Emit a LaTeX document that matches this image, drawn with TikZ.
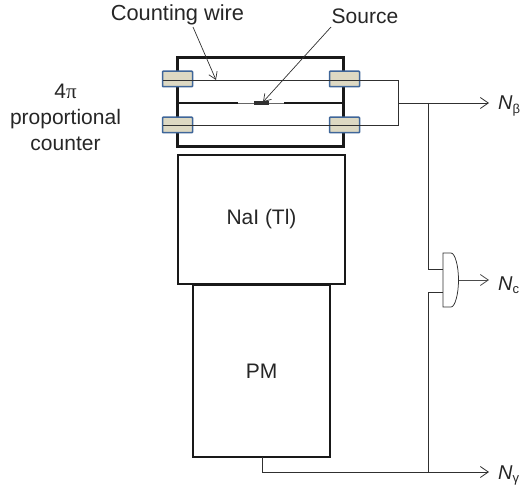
\documentclass[tikz,border=0pt]{standalone}
\usepackage{fontspec}
\setmainfont{Liberation Sans}
\newfontfamily\pifont{Liberation Serif}
\usetikzlibrary{arrows.meta,calc}
\definecolor{feedfill}{HTML}{DDD9C3}
\definecolor{feedline}{HTML}{3F6699}
\definecolor{wirecol}{HTML}{303030}
\tikzset{
  box/.style={draw=black!90,line width=1.8pt,rectangle,inner sep=0pt,font=\fontsize{21}{24}\selectfont,text=black!85},
  feed/.style={draw=feedline,fill=feedfill,line width=1.5pt,rounded corners=0.8pt,minimum width=30pt,minimum height=15.5pt,inner sep=0pt},
  wire/.style={draw=wirecol,line width=0.85pt},
  arr/.style={wire,-{Straight Barb[length=8pt,width=11pt,line width=0.8pt]}},
  lab/.style={font=\fontsize{21}{26}\selectfont,text=black!85,inner sep=0pt},
  divider/.style={draw=black!90,line width=1.5pt},
  sublab/.style={font=\fontsize{20}{24}\selectfont,text=black!85,inner sep=0pt,anchor=base west},
  pointer/.style={wire,line width=0.7pt,-{Straight Barb[length=7pt,width=9pt,line width=0.7pt]}}
}
\newcommand{\subtxt}[1]{\raisebox{-3.5pt}{\fontsize{13}{13}\selectfont #1}}
\begin{document}
\begin{tikzpicture}[x=1pt,y=-1pt]
\useasboundingbox (0,0) rectangle (521,489);
% boxes
\node[box,line width=2.8pt,minimum width=166pt,minimum height=89pt] (counter) at (260.5,102) {};
\node[box,minimum width=167pt,minimum height=129pt] (nai) at (261.5,219.5) {NaI (Tl)};
\node[box,minimum width=137pt,minimum height=172pt] (pm) at (261.5,371) {PM};
% divider
\coordinate (dl) at (counter.west |- 0,103);
\coordinate (dr) at (counter.east |- 0,103);
\coordinate (d1) at (238,103);
\coordinate (d2) at (254,103);
\coordinate (d3) at (284,103);
\coordinate (d4) at (269,103);
\draw[divider] (dl) -- (d1);
\draw[wire,draw=black!60] (d1) -- (d2);
\draw[draw=wirecol,line width=3.4pt] (d2) -- (d4);
\draw[wire,draw=black!60] (d4) -- (d3);
\draw[divider] (d3) -- (dr);
% feedthroughs
\node[feed] (fa) at (177.5,79) {};
\node[feed] (fb) at (344.5,79) {};
\node[feed] (fc) at (177.5,125) {};
\node[feed] (fd) at (344.5,125) {};
% wires
\coordinate (ja) at (398,80);
\coordinate (jc) at (398,125);
\coordinate (jm) at (398,103);
\coordinate (split) at (428,103);
\coordinate (wa) at (163,80);
\coordinate (wc) at (163,125);
\draw[wire] (wa) -- (ja) -- (jc) -- (wc);
\node[sublab] (nb) at (498,110) {\textit{N}\subtxt{β}};
\node[sublab] (nc) at (498,290) {\textit{N}\subtxt{c}};
\node[sublab] (ng) at (498,479) {\textit{N}\subtxt{γ}};
\coordinate (endb) at (489,103);
\coordinate (endc) at (489,280);
\coordinate (endg) at (489,472);
\draw[wire] (jm) -- (split);
\draw[arr] (split) -- (endb);
% gate
\coordinate (gtl) at (443,253);
\coordinate (gbl) at (443,307);
\coordinate (gi1) at (443,269);
\coordinate (gi2) at (443,292);
\coordinate (gout) at (458.5,280);
\draw[wire,line width=0.75pt] (gtl) -- (451,253) .. controls (455,253) and (458.5,266) .. (gout) .. controls (458.5,294) and (455,307) .. (451,307) -- (gbl) -- cycle;
\draw[arr,draw=black!70] (gout) -- (endc);
% lower path
\coordinate (pmout) at (262,457);
\coordinate (bot) at (428,472);
\draw[wire] (split) |- (gi1);
\draw[wire] (bot) |- (gi2);
\draw[wire] (pmout) |- (bot);
\draw[arr] (bot) -- (endg);
% labels
\node[lab,font=\fontsize{21.8}{26}\selectfont,anchor=base] (cw) at (177.5,21) {Counting wire};
\node[lab,anchor=base] (src) at (365,24) {Source};
\coordinate (cwfoot) at (193,27);
\coordinate (srcfoot) at (331,27);
\coordinate (wiretip) at (216,80);
\coordinate (srctip) at (263,102);
\draw[pointer] (cwfoot) -- (wiretip);
\draw[pointer] (srcfoot) -- (srctip);
\node[lab,align=center,anchor=base] (pc) at (65.5,150.5) {4{\pifont π}\\proportional\\counter};
\end{tikzpicture}
\end{document}
